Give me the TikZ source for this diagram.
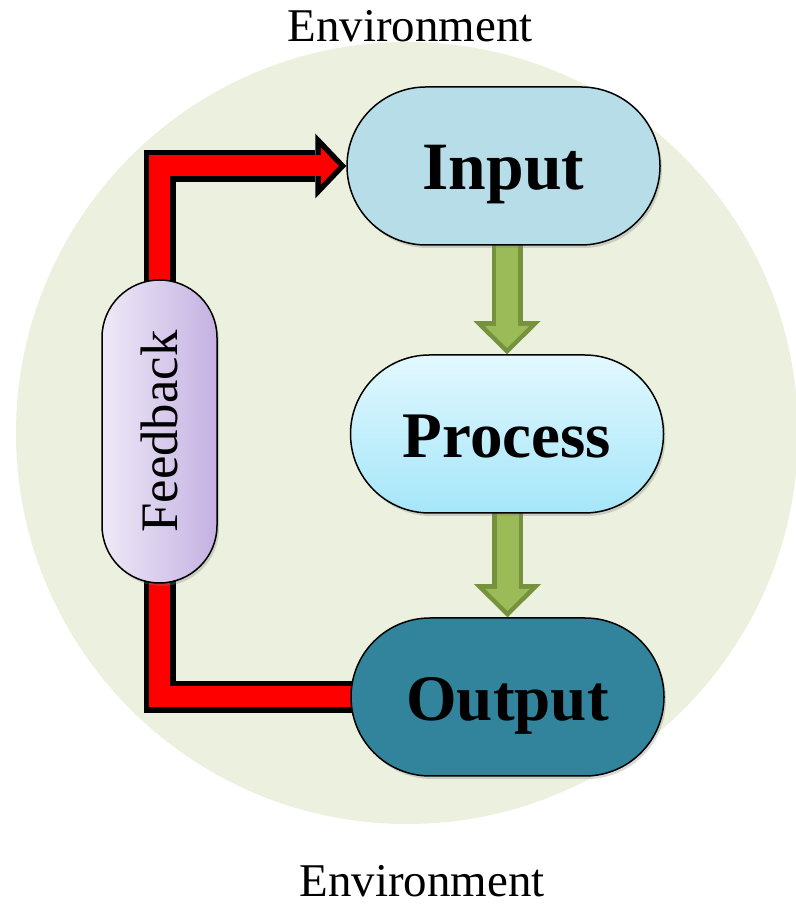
\documentclass[tikz,border=0pt]{standalone}
\usepackage{fontspec}
\setmainfont{Liberation Serif}
\usepackage{graphicx}
\usetikzlibrary{arrows.meta,shadows}
\definecolor{envgreen}{HTML}{EBF1DE}
\definecolor{inblue}{HTML}{B7DDE8}
\definecolor{proctop}{HTML}{E2F8FE}
\definecolor{procbot}{HTML}{A5E6F9}
\definecolor{outteal}{HTML}{31849B}
\definecolor{fbleft}{HTML}{EEE9F7}
\definecolor{fbright}{HTML}{C4B1E2}
\definecolor{arrowgreen}{HTML}{9BBB59}
\definecolor{arrowdark}{HTML}{76923C}
\pgfdeclarelayer{env}
\pgfdeclarelayer{links}
\pgfsetlayers{env,links,main}
\tikzstyle{stage} = [rectangle, rounded corners=1.58cm, minimum width=6.26cm, minimum height=3.16cm, draw=black, line width=0.03cm, font=\fontsize{38.5}{40}\selectfont\bfseries, text height=27pt, text depth=0pt, drop shadow={shadow xshift=0.04cm, shadow yshift=-0.06cm, opacity=0.3}]
\tikzstyle{envlabel} = [font=\fontsize{26.7}{30}\selectfont, anchor=base, inner sep=0pt]
\tikzstyle{redout} = [line width=0.64cm, line join=miter, black]
\tikzstyle{redin} = [line width=0.42cm, line join=miter, red]
\tikzstyle{greenout} = [line width=0.62cm, arrowdark]
\tikzstyle{greenin} = [line width=0.44cm, arrowgreen]

\begin{document}
\begin{tikzpicture}
    \useasboundingbox (0,0) rectangle (15.9,18.08);
    \begin{pgfonlayer}{env}
        \fill[envgreen] (8.14,9.42) circle (7.82cm);
    \end{pgfonlayer}

    \node[envlabel] (envtop) at (8.2,17.24) {Environment};
    \node[envlabel] (envbot) at (8.44,0.14) {Environment};

    \node[stage, fill=inblue] (in) at (10.07,14.76) {Input};
    \node[stage, top color=proctop, bottom color=procbot] (pr) at (10.14,9.40) {\fontsize{37}{40}\selectfont Process};
    \node[stage, fill=outteal] (out) at (10.15,4.14) {\fontsize{37}{40}\selectfont Output};
    \node[rectangle, rounded corners=1.15cm, minimum width=2.3cm, minimum height=6.06cm, draw=black, line width=0.03cm, left color=fbleft, right color=fbright, drop shadow={shadow xshift=0.04cm, shadow yshift=-0.06cm, opacity=0.3}, font=\fontsize{30}{32}\selectfont] (fb) at (3.19,9.45) {\rotatebox{90}{Feedback}};

    \begin{pgfonlayer}{links}
        \draw[redout, -{Triangle[length=0.62cm, width=1.3cm, line width=0pt]}] (fb.center) |- (in.west);
        \draw[redin, shorten >=0.15cm, -{Triangle[length=0.36cm, width=0.75cm, line width=0pt]}] (fb.center) |- (in.west);
        \draw[redout] (fb.center) |- (out.center);
        \draw[redin] (fb.center) |- (out.center);

        \draw[greenout, -{Triangle[length=0.66cm, width=1.34cm, line width=0pt]}] (pr.north |- in.center) -- (pr.north);
        \draw[greenin, shorten >=0.126cm, -{Triangle[length=0.44cm, width=0.89cm, line width=0pt]}] (pr.north |- in.center) -- (pr.north);
        \draw[greenout, -{Triangle[length=0.66cm, width=1.34cm, line width=0pt]}] (out.north |- pr.center) -- (out.north);
        \draw[greenin, shorten >=0.126cm, -{Triangle[length=0.44cm, width=0.89cm, line width=0pt]}] (out.north |- pr.center) -- (out.north);
    \end{pgfonlayer}
\end{tikzpicture}
\end{document}
